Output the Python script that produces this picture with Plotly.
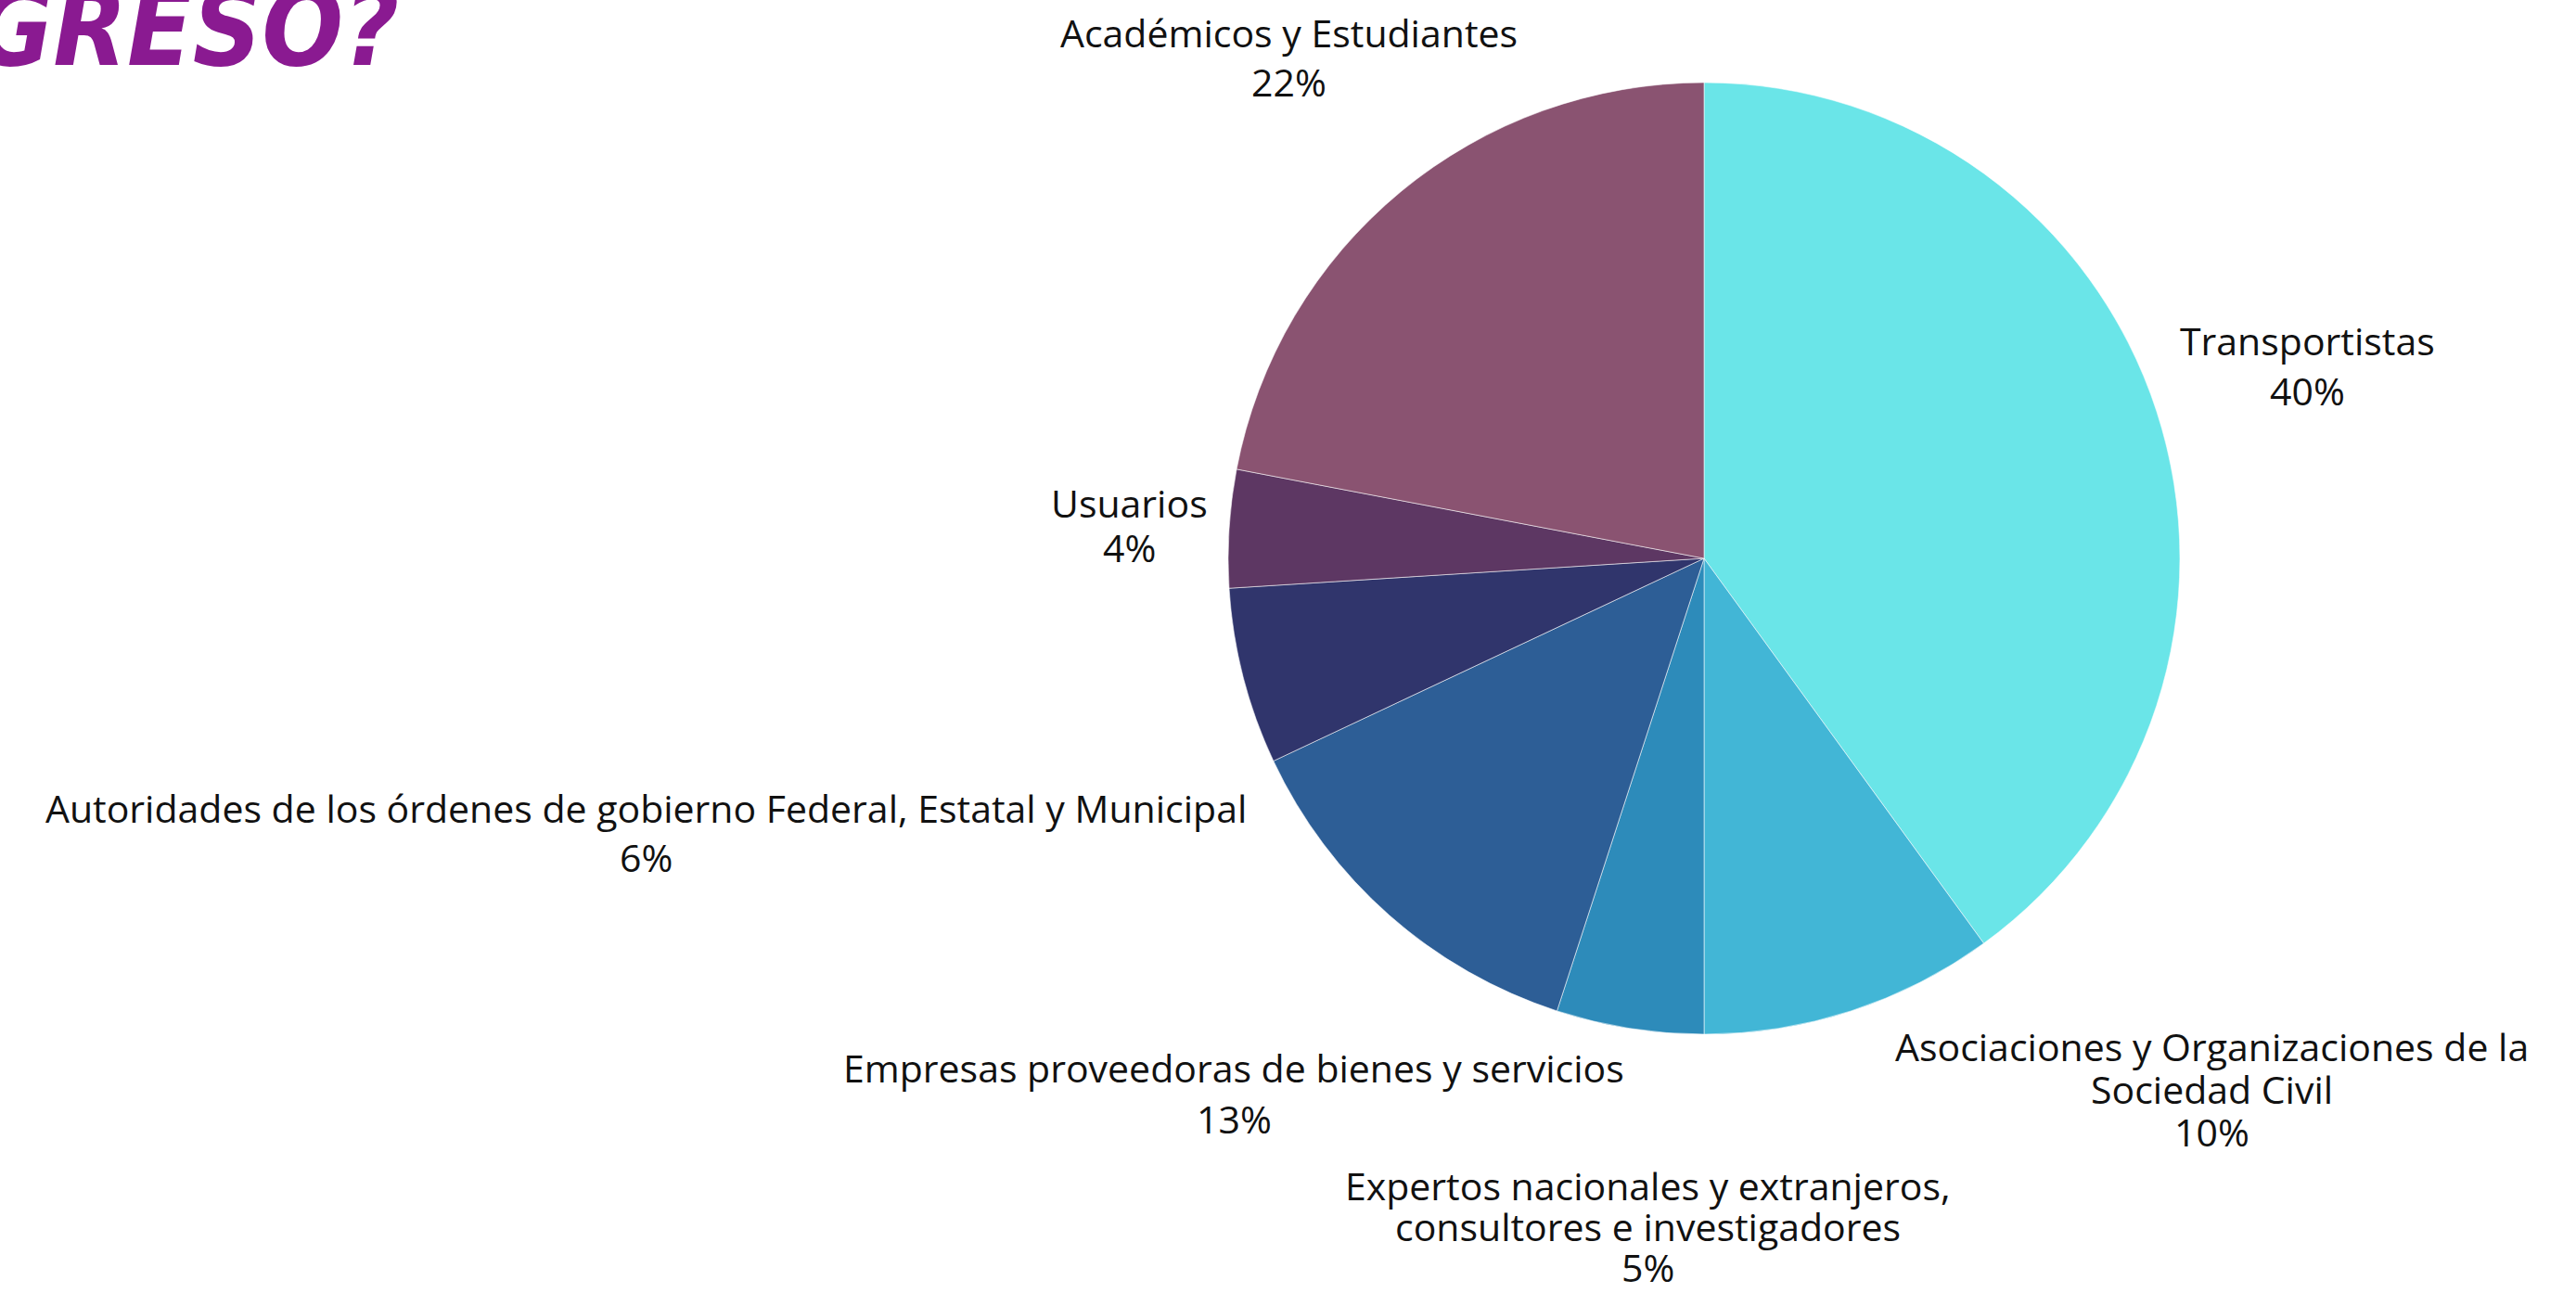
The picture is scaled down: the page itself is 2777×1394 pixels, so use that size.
import plotly.graph_objects as go

# ---- data ----
labels = [
    "Transportistas",
    "Asociaciones y Organizaciones de la Sociedad Civil",
    "Expertos nacionales y extranjeros, consultores e investigadores",
    "Empresas proveedoras de bienes y servicios",
    "Autoridades de los órdenes de gobierno Federal, Estatal y Municipal",
    "Usuarios",
    "Académicos y Estudiantes",
]
display_labels = [
    "Transportistas",
    "Asociaciones y Organizaciones de la<br>Sociedad Civil",
    "Expertos nacionales y extranjeros,<br>consultores e investigadores",
    "Empresas proveedoras de bienes y servicios",
    "Autoridades de los órdenes de gobierno Federal, Estatal y Municipal",
    "Usuarios",
    "Académicos y Estudiantes",
]
values = [40, 10, 5, 13, 6, 4, 22]
colors = ["#6AE5E8", "#42B6D6", "#2D8BBA", "#2D5E96", "#30356C", "#5D3763", "#8A5371"]
title_text = "CONGRESO?"

# label line positions (pixels in the 2777x1394 canvas): x center, y of each line
label_x = [2487, 2384, 1776, 1330, 696, 1217, 1389]
label_line_y = [
    [367, 421],
    [1128, 1174, 1220],
    [1278, 1322, 1366],
    [1151, 1206],
    [871, 924],
    [542, 590],
    [35, 88],
]

W, H = 2777, 1394
cx, cy, r = 1837, 602, 513

fig = go.Figure()
fig.add_trace(go.Pie(
    labels=labels,
    values=values,
    sort=False,
    direction="clockwise",
    rotation=0,
    marker=dict(colors=colors, line=dict(color="rgba(255,255,255,0.55)", width=1)),
    textinfo="none",
    hoverinfo="label+percent",
    showlegend=False,
    domain=dict(x=[(cx - r) / W, (cx + r) / W], y=[(H - cy - r) / H, (H - cy + r) / H]),
))

total = sum(values)
annotations = []
for lab, v, px, ys in zip(display_labels, values, label_x, label_line_y):
    lines = lab.split("<br>") + [f"{round(100 * v / total)}%"]
    for line, py in zip(lines, ys):
        annotations.append(dict(
            text=line,
            x=px / W, y=1 - py / H, xref="paper", yref="paper",
            xanchor="center", yanchor="middle", showarrow=False, align="center",
            font=dict(family="'Open Sans', 'Noto Sans', sans-serif", size=41, color="#111111"),
        ))

annotations.append(dict(
    text=title_text,
    x=432 / W, y=1 - 99 / H, xref="paper", yref="paper",
    xanchor="right", yanchor="bottom", showarrow=False,
    font=dict(family="'DejaVu Sans Condensed', 'Liberation Sans Narrow', sans-serif",
              size=115, color="#8A1A91", weight="bold", style="italic"),
))

fig.update_layout(
    width=W, height=H,
    margin=dict(l=0, r=0, t=0, b=0),
    paper_bgcolor="white", plot_bgcolor="white",
    annotations=annotations,
)

fig.write_html("out.html")
